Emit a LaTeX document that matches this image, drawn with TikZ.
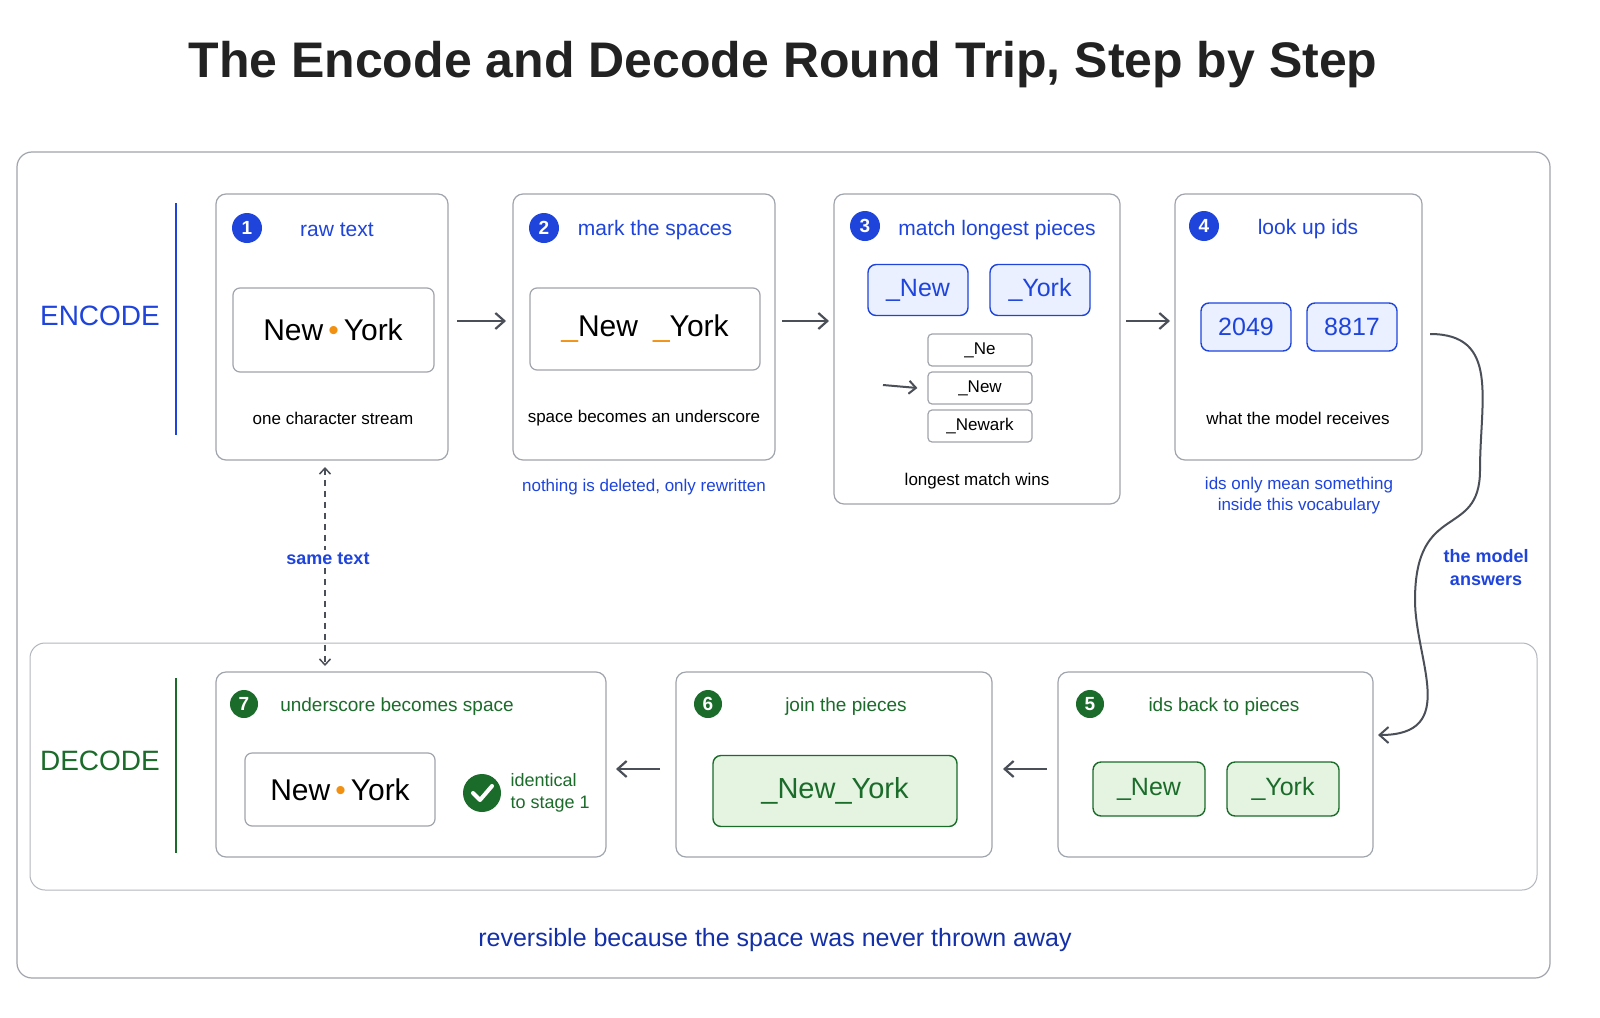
\documentclass[tikz,border=0pt]{standalone}
\usepackage{fontspec}
\setmainfont{Liberation Sans}
\usetikzlibrary{arrows.meta}
\definecolor{bl}{HTML}{1E44DC}
\definecolor{dbl}{HTML}{1430A8}
\definecolor{cbl}{HTML}{EAF0FF}
\definecolor{gr}{HTML}{1B6B2A}
\definecolor{cgr}{HTML}{E4F4E1}
\definecolor{orn}{HTML}{F29111}
\definecolor{bd}{HTML}{A0A4AC}
\definecolor{ar}{HTML}{4A4F58}
\begin{document}
\begin{tikzpicture}[x=1pt,y=-1pt,
  card/.style={draw=bd,line width=1.2pt,rounded corners=10pt,fill=white},
  inner/.style={draw=bd,line width=1.2pt,rounded corners=7pt,fill=white},
  bchip/.style={draw=bl,line width=1.4pt,rounded corners=8pt,fill=cbl},
  gchip/.style={draw=gr,line width=1.4pt,rounded corners=8pt,fill=cgr},
  bnum/.style={circle,fill=bl,text=white,minimum size=30pt,inner sep=0pt,font=\fontsize{19}{19}\selectfont\bfseries},
  gnum/.style={circle,fill=gr,text=white,minimum size=30pt,inner sep=0pt,font=\fontsize{19}{19}\selectfont\bfseries},
  btitle/.style={text=bl,font=\fontsize{21}{21}\selectfont},
  gtitle/.style={text=gr,font=\fontsize{19}{19}\selectfont},
  capt/.style={font=\fontsize{17}{17}\selectfont},
  big/.style={font=\fontsize{30}{30}\selectfont},
  flow/.style={draw=ar,line width=2.2pt,-{Straight Barb[length=9pt,width=16pt]}}]
\useasboundingbox (0,0) rectangle (1600,1017);
\fill[white] (0,0) rectangle (1600,1017);
\node (title) at (783,65) {\fontsize{50}{50}\selectfont\bfseries\color[HTML]{222222}The Encode and Decode Round Trip, Step by Step};
\draw[draw=bd,line width=1.2pt,rounded corners=15pt] (17,152) rectangle (1550,978);
\draw[draw=bd!80,line width=1pt,rounded corners=15pt] (30,643) rectangle (1537,890);
\draw[bl,line width=1.5pt] (176,203) -- (176,435);
\draw[gr,line width=1.5pt] (176,678) -- (176,853);
\node[text=bl,font=\fontsize{28}{28}\selectfont] (enc) at (100,316) {ENCODE};
\node[text=gr,font=\fontsize{28}{28}\selectfont] (dec) at (100,761) {DECODE};
% box1
\draw[card] (216,194) rectangle (448,460);
\node[bnum] (n1) at (247,228) {1};
\node[btitle] (t1) at (337,230) {raw text};
\draw[inner] (233,288) rectangle (434,372);
\node[big] (s1) at (333,330) {New{\color{orn}\,\char"2022\,}York};
\node[capt] (c1) at (333,418) {one character stream};
% box2
\draw[card] (513,194) rectangle (775,460);
\node[bnum] (n2) at (544,228) {2};
\node[btitle] (t2) at (655,230) {mark the spaces};
\draw[inner] (530,288) rectangle (760,370);
\node[big] (s2) at (645,329) {{\color{orn}\_}New\enspace{\color{orn}\_}York};
\node[capt] (c2) at (644,418) {space becomes an underscore};
\node[text=bl,font=\fontsize{17}{17}\selectfont] (no2) at (644,487) {nothing is deleted, only rewritten};
% box3
\draw[card] (834,194) rectangle (1120,504);
\node[bnum] (n3) at (865,226) {3};
\node[btitle] (t3) at (997,230) {match longest pieces};
\node[bchip,minimum width=100pt,minimum height=51pt,text=bl,font=\fontsize{25}{25}\selectfont] (p1) at (918,290) {\_New};
\node[bchip,minimum width=100pt,minimum height=51pt,text=bl,font=\fontsize{25}{25}\selectfont] (p2) at (1040,290) {\_York};
\node[inner,rounded corners=4pt,minimum width=104pt,minimum height=32pt,font=\fontsize{17}{17}\selectfont] (v1) at (980,350) {\_Ne};
\node[inner,rounded corners=4pt,minimum width=104pt,minimum height=32pt,font=\fontsize{17}{17}\selectfont] (v2) at (980,388) {\_New};
\node[inner,rounded corners=4pt,minimum width=104pt,minimum height=32pt,font=\fontsize{17}{17}\selectfont] (v3) at (980,426) {\_Newark};
\coordinate (va) at (883,385);
\draw[draw=ar,line width=2pt,-{Straight Barb[length=7pt,width=13pt]}] (va) -- ([xshift=-10pt]v2.west);
\node[capt] (c3) at (977,481) {longest match wins};
% box4
\draw[card] (1175,194) rectangle (1422,460);
\node[bnum] (n4) at (1204,226) {4};
\node[btitle] (t4) at (1308,229) {look up ids};
\node[bchip,minimum width=90pt,minimum height=48pt,text=bl,font=\fontsize{25}{25}\selectfont] (i1) at (1246,327) {2049};
\node[bchip,minimum width=90pt,minimum height=48pt,text=bl,font=\fontsize{25}{25}\selectfont] (i2) at (1352,327) {8817};
\node[capt] (c4) at (1298,418) {what the model receives};
\node[text=bl,font=\fontsize{17}{21}\selectfont,align=center] (no4) at (1299,496) {ids only mean something\\inside this vocabulary};
% encode arrows
\coordinate (a1s) at (457,321); \coordinate (a1e) at (506,321);
\coordinate (a2s) at (782,321); \coordinate (a2e) at (829,321);
\coordinate (a3s) at (1126,321); \coordinate (a3e) at (1170,321);
\draw[flow] (a1s) -- (a1e);
\draw[flow] (a2s) -- (a2e);
\draw[flow] (a3s) -- (a3e);
% curve
\coordinate (cs) at (1430,334);
\coordinate (ce) at (1378,735);
\draw[draw=ar,line width=2pt,-{Straight Barb[length=9pt,width=16pt]}] (cs) .. controls (1500,334) and (1480,400) .. (1480,470)
  .. controls (1480,540) and (1415,500) .. (1415,600)
  .. controls (1415,660) and (1460,735) .. (ce);
\node[text=bl,font=\fontsize{18}{23}\selectfont\bfseries,align=center] (ans) at (1486,568) {the model\\answers};
% dashed
\coordinate (ds) at (325,467); \coordinate (de) at (325,666);
\draw[draw=ar,line width=1.5pt,dash pattern=on 6pt off 5pt,{Straight Barb[length=6pt,width=11pt]}-{Straight Barb[length=6pt,width=11pt]}] (ds) -- (de);
\node[fill=white,text=bl,font=\fontsize{18}{18}\selectfont\bfseries,inner sep=3pt] (same) at (328,559) {same text};
% box7
\draw[card] (216,672) rectangle (606,857);
\node[gnum,minimum size=28pt] (n7) at (244,704) {7};
\node[gtitle] (t7) at (397,707) {underscore becomes space};
\draw[inner] (245,753) rectangle (435,826);
\node[big] (s7) at (340,790) {New{\color{orn}\,\char"2022\,}York};
\node[circle,fill=gr,minimum size=38pt,inner sep=0pt] (chk) at (482,793) {};
\draw[white,line width=4pt,line cap=round,line join=round] (473,793) -- (480,800) -- (492,786);
\node[text=gr,font=\fontsize{18}{22}\selectfont,align=left,anchor=west] (id) at (507,793) {identical\\to stage 1};
% box6
\draw[card] (676,672) rectangle (992,857);
\node[gnum,minimum size=28pt] (n6) at (708,704) {6};
\node[gtitle] (t6) at (846,707) {join the pieces};
\node[gchip,minimum width=244pt,minimum height=71pt,text=gr,font=\fontsize{29}{29}\selectfont] (j) at (835,791) {\_New\_York};
% box5
\draw[card] (1058,672) rectangle (1373,857);
\node[gnum,minimum size=28pt] (n5) at (1090,704) {5};
\node[gtitle] (t5) at (1224,707) {ids back to pieces};
\node[gchip,minimum width=112pt,minimum height=54pt,text=gr,font=\fontsize{25}{25}\selectfont] (g1) at (1149,789) {\_New};
\node[gchip,minimum width=112pt,minimum height=54pt,text=gr,font=\fontsize{25}{25}\selectfont] (g2) at (1283,789) {\_York};
% decode arrows
\coordinate (b1s) at (660,769); \coordinate (b1e) at (616,769);
\coordinate (b2s) at (1047,769); \coordinate (b2e) at (1003,769);
\draw[flow] (b1s) -- (b1e);
\draw[flow] (b2s) -- (b2e);
\node[text=dbl,font=\fontsize{25}{25}\selectfont] (foot) at (775,940) {reversible because the space was never thrown away};
\end{tikzpicture}
\end{document}
